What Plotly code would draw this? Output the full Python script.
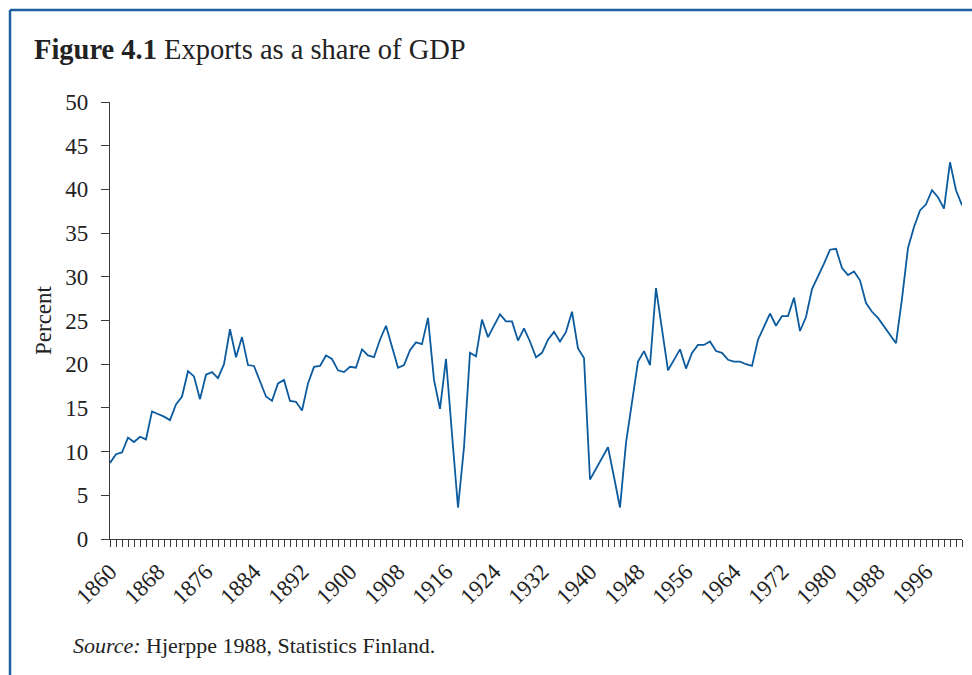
import plotly.graph_objects as go

# Exports as a share of GDP, Finland, 1860-2002 (percent)
years = list(range(1860, 2003))
export_share = [
    8.7, 9.7, 9.9, 11.6, 11.1, 11.7, 11.4, 14.6, 14.3, 14.0,      # 1860s
    13.6, 15.4, 16.3, 19.2, 18.6, 16.0, 18.8, 19.1, 18.4, 20.0,   # 1870s
    24.0, 20.8, 23.1, 19.9, 19.8, 18.1, 16.3, 15.8, 17.8, 18.2,   # 1880s
    15.8, 15.7, 14.7, 17.8, 19.7, 19.8, 21.0, 20.6, 19.3, 19.1,   # 1890s
    19.7, 19.6, 21.7, 21.0, 20.8, 22.8, 24.4, 22.0, 19.6, 19.9,   # 1900s
    21.6, 22.5, 22.3, 25.3, 18.2, 14.9, 20.6, 12.0, 3.6, 10.5,    # 1910s
    21.3, 20.9, 25.1, 23.1, 24.4, 25.7, 24.9, 24.9, 22.7, 24.1,   # 1920s
    22.6, 20.8, 21.3, 22.8, 23.7, 22.6, 23.7, 26.0, 21.8, 20.7,   # 1930s
    6.8, 8.0, 9.2, 10.5, 7.1, 3.6, 11.0, 15.5, 20.3, 21.5,        # 1940s
    19.9, 28.7, 24.0, 19.3, 20.5, 21.7, 19.5, 21.3, 22.2, 22.2,   # 1950s
    22.6, 21.5, 21.3, 20.5, 20.3, 20.3, 20.0, 19.8, 22.8, 24.3,   # 1960s
    25.8, 24.4, 25.5, 25.5, 27.6, 23.8, 25.4, 28.6, 30.0, 31.5,   # 1970s
    33.1, 33.2, 31.0, 30.2, 30.6, 29.6, 27.0, 26.0, 25.3, 24.3,   # 1980s
    23.3, 22.4, 27.5, 33.3, 35.7, 37.6, 38.3, 39.9, 39.1, 37.8,   # 1990s
    43.1, 39.9, 38.2,                                             # 2000s
]
y_ticks = [0, 5, 10, 15, 20, 25, 30, 35, 40, 45, 50]

SERIF = "Liberation Serif"
LINE_BLUE = "#0b5b9e"
FRAME_BLUE = "#1f5f9f"
AXIS_COL = "#3a3a3a"

# plot area in pixels: x 110..962, y 102..539
W, H = 972, 675
L, R, T, B = 110, 10, 102, 136
pw, ph = W - L - R, H - T - B


def px(x):
    return (x - L) / pw


def py(y):
    return (H - B - y) / ph


fig = go.Figure()
fig.add_trace(go.Scatter(
    x=years, y=export_share,
    mode="lines",
    line=dict(color=LINE_BLUE, width=1.8),
    hovertemplate="%{x}: %{y:.1f}%<extra></extra>",
    showlegend=False,
))

fig.update_xaxes(
    range=[1860, 2002],
    tick0=1860, dtick=8,
    ticks="outside", ticklen=7, tickwidth=1, tickcolor=AXIS_COL,
    minor=dict(dtick=1, tick0=1860, ticks="outside", ticklen=7,
               tickwidth=1, tickcolor=AXIS_COL, showgrid=False),
    tickangle=-45,
    tickfont=dict(family=SERIF, size=23, color="#222"),
    ticklabelstandoff=2,
    showline=True, linecolor=AXIS_COL, linewidth=1.2,
    showgrid=False, zeroline=False,
)
fig.update_yaxes(
    range=[0, 50],
    tickvals=y_ticks,
    ticks="outside", ticklen=8, tickwidth=1, tickcolor=AXIS_COL,
    tickfont=dict(family=SERIF, size=23, color="#222"),
    ticklabelstandoff=8,
    showline=True, linecolor=AXIS_COL, linewidth=1.2,
    showgrid=False, zeroline=False,
)

fig.add_annotation(
    text="<b>Figure 4.1</b> Exports as a share of GDP",
    xref="paper", yref="paper", x=px(32), y=py(50),
    xanchor="left", yanchor="middle", showarrow=False,
    font=dict(family=SERIF, size=28.5, color="#222"),
)
fig.add_annotation(
    text="Percent", textangle=-90,
    xref="paper", yref="paper", x=px(43), y=py(320),
    xanchor="center", yanchor="middle", showarrow=False,
    font=dict(family=SERIF, size=23, color="#222"),
)
fig.add_annotation(
    text="<i>Source:</i> Hjerppe 1988, Statistics Finland.",
    xref="paper", yref="paper", x=px(71), y=py(645),
    xanchor="left", yanchor="middle", showarrow=False,
    font=dict(family=SERIF, size=22, color="#222"),
)

# blue frame (top and left edges only are visible)
fig.add_shape(type="line", xref="paper", yref="paper",
              x0=px(10), x1=px(W + 20), y0=py(10), y1=py(10),
              line=dict(color=FRAME_BLUE, width=2.5))
fig.add_shape(type="line", xref="paper", yref="paper",
              x0=px(10), x1=px(10), y0=py(10), y1=py(H + 20),
              line=dict(color=FRAME_BLUE, width=2.5))

fig.update_layout(
    width=W, height=H,
    margin=dict(l=L, r=R, t=T, b=B),
    paper_bgcolor="white", plot_bgcolor="white",
    font=dict(family=SERIF, color="#222"),
)

# drop the browser's default body margin so the figure sits at 0,0
fig.write_html("out.html", config={"displayModeBar": False},
               post_script="document.body.style.margin='0';")
